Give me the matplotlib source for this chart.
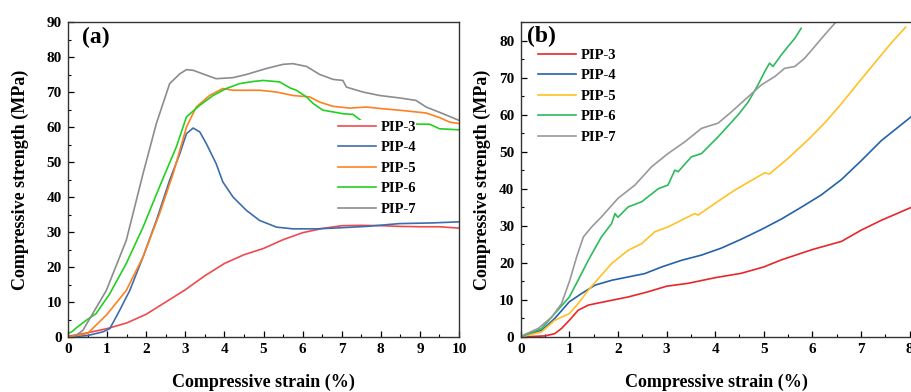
import numpy as np
import matplotlib
matplotlib.use("Agg")
import matplotlib.pyplot as plt
from matplotlib.ticker import MultipleLocator

# ---------------- data, panel (a) ----------------
labels = ["PIP-3", "PIP-4", "PIP-5", "PIP-6", "PIP-7"]

a3_x = [0, 0.5, 1.0, 1.5, 2.0, 2.5, 3.0, 3.5, 4.0, 4.5, 5.0, 5.5, 6.0, 6.5, 7.0, 7.5, 8.0, 8.5, 9.0, 9.5, 10.0]
a3_y = [0.2, 1.2, 2.4, 4.0, 6.5, 10.0, 13.5, 17.5, 21.0, 23.5, 25.3, 27.8, 29.8, 31.0, 31.8, 31.9, 31.8, 31.6, 31.5, 31.5, 31.1]

a4_x = [0, 0.5, 0.9, 1.07, 1.32, 1.58, 1.92, 2.26, 2.6, 2.86, 3.03, 3.2, 3.37, 3.54, 3.79, 3.96,
        4.22, 4.56, 4.9, 5.33, 5.75, 6.35, 6.78, 7.63, 8.48, 9.33, 10.0]
a4_y = [0, 0.4, 1.5, 2.4, 7.6, 13.3, 22.9, 33.3, 44.8, 52.4, 58.1, 59.7, 58.6, 55.2, 49.5, 44.3,
        40.0, 36.2, 33.3, 31.4, 30.9, 30.9, 31.1, 31.6, 32.4, 32.6, 32.9]

a5_x = [0, 0.5, 1.0, 1.49, 1.92, 2.34, 2.69, 3.03, 3.28, 3.62, 3.96, 4.22, 4.9, 5.33, 5.75, 6.18,
        6.44, 6.78, 7.2, 7.63, 8.06, 8.48, 8.9, 9.16, 9.5, 9.76, 10.0]
a5_y = [0, 1.0, 6.5, 13.3, 22.9, 35.2, 46.7, 60.0, 65.7, 69.0, 71.0, 70.5, 70.5, 70.0, 69.0, 68.6,
        67.1, 65.9, 65.4, 65.7, 65.2, 64.8, 64.3, 64.0, 62.7, 61.4, 61.0]

# PIP-6 runs behind the legend between ~7.3 and ~9 %
a6_x = [0, 0.1, 0.21, 0.47, 0.72, 1.07, 1.49, 1.92, 2.34, 2.77, 3.03, 3.37, 3.71, 4.05, 4.39, 4.73,
        4.99, 5.41, 5.67, 5.84, 6.1, 6.27, 6.52, 6.78, 7.03, 7.29, 7.5, 8.0, 8.5, 9.0, 9.25, 9.5, 10.0]
a6_y = [1.0, 1.5, 2.6, 4.8, 6.7, 12.4, 21.0, 31.4, 42.9, 54.3, 62.9, 66.2, 69.0, 71.0, 72.4, 73.0,
        73.3, 72.9, 71.2, 70.5, 68.6, 66.7, 64.8, 64.3, 63.8, 63.6, 61.8, 61.4, 61.1, 60.8, 60.8, 59.5, 59.2]

a7_x = [0.15, 0.38, 0.98, 1.49, 1.92, 2.26, 2.6, 2.86, 3.03, 3.2, 3.54, 3.79, 4.22, 4.56, 5.07, 5.5,
        5.75, 6.1, 6.44, 6.78, 7.03, 7.12, 7.54, 7.97, 8.48, 8.9, 9.16, 9.59, 10.0]
a7_y = [0, 1.9, 13.3, 27.6, 46.7, 61.0, 72.4, 75.2, 76.4, 76.2, 74.8, 73.8, 74.1, 75.0, 76.7, 77.9,
        78.1, 77.3, 75.0, 73.6, 73.3, 71.4, 70.0, 69.0, 68.3, 67.6, 65.7, 63.8, 61.9]

# ---------------- data, panel (b) ----------------
b3_x = [0, 0.5, 0.7, 0.84, 1.0, 1.18, 1.39, 1.53, 1.87, 2.21, 2.62, 3.0, 3.45, 4.0, 4.54, 5.0,
        5.36, 6.0, 6.6, 7.0, 7.42, 8.04]
b3_y = [0, 0.3, 0.9, 2.3, 4.5, 7.2, 8.6, 9.0, 9.9, 10.8, 12.2, 13.7, 14.5, 16.0, 17.2, 18.9,
        20.8, 23.6, 25.8, 28.8, 31.5, 35.0]

b4_x = [0, 0.43, 0.7, 1.0, 1.25, 1.53, 1.87, 2.21, 2.55, 2.9, 3.31, 3.72, 4.13, 4.54, 4.95, 5.36,
        5.77, 6.18, 6.6, 7.0, 7.42, 8.04]
b4_y = [0, 1.8, 5.0, 9.5, 11.7, 14.0, 15.3, 16.2, 17.1, 18.9, 20.7, 22.1, 24.0, 26.4, 29.0, 31.8,
        35.0, 38.3, 42.5, 47.5, 53.0, 59.5]

b5_x = [0, 0.43, 0.7, 1.0, 1.18, 1.39, 1.66, 1.87, 2.21, 2.49, 2.76, 3.03, 3.38, 3.58, 3.65, 3.99,
        4.4, 4.82, 5.02, 5.12, 5.5, 5.91, 6.25, 6.6, 6.94, 7.28, 7.62, 7.92]
b5_y = [0, 1.4, 4.5, 6.3, 9.0, 12.6, 16.7, 19.8, 23.4, 25.2, 28.4, 29.7, 32.0, 33.3, 32.9, 36.0,
        39.6, 42.8, 44.3, 44.0, 48.2, 53.2, 57.7, 63.0, 68.5, 73.9, 79.3, 83.6]

b6_x = [0, 0.43, 0.7, 1.0, 1.18, 1.39, 1.66, 1.87, 1.94, 2.0, 2.21, 2.49, 2.83, 3.03, 3.17, 3.24,
        3.51, 3.72, 4.06, 4.47, 4.68, 4.88, 5.02, 5.12, 5.19, 5.36, 5.5, 5.64, 5.77]
b6_y = [0, 2.3, 6.3, 10.8, 15.3, 20.7, 27.0, 30.6, 33.3, 32.3, 35.1, 36.5, 40.0, 41.0, 45.0, 44.6,
        48.6, 49.5, 54.0, 59.9, 63.4, 68.0, 71.6, 73.9, 73.0, 76.1, 78.4, 80.6, 83.3]

b7_x = [0, 0.36, 0.64, 0.84, 1.01, 1.15, 1.29, 1.46, 1.66, 2.0, 2.35, 2.69, 3.03, 3.38, 3.72, 4.06,
        4.34, 4.61, 4.95, 5.23, 5.43, 5.64, 5.84, 6.05, 6.25, 6.52]
b7_y = [0.2, 2.3, 5.4, 9.0, 15.3, 21.6, 27.0, 29.7, 32.4, 37.4, 41.0, 45.9, 49.5, 52.7, 56.3, 57.7,
        60.8, 64.0, 68.0, 70.3, 72.5, 73.0, 75.2, 78.4, 81.5, 85.5]

colors_a = ["#EE4A4E", "#3D6DAE", "#FF8020", "#22D022", "#8C8C8C"]
colors_b = ["#E8262C", "#2462A8", "#FFC125", "#2EBA5E", "#999999"]

series_a = [(a3_x, a3_y), (a4_x, a4_y), (a5_x, a5_y), (a6_x, a6_y), (a7_x, a7_y)]
series_b = [(b3_x, b3_y), (b4_x, b4_y), (b5_x, b5_y), (b6_x, b6_y), (b7_x, b7_y)]

plt.rcParams.update({
    "font.family": "Liberation Serif",
    "font.weight": "bold",
    "axes.labelweight": "bold",
    "axes.linewidth": 1.0,
    "axes.edgecolor": "#333333",
    "xtick.direction": "in",
    "ytick.direction": "in",
})

fig = plt.figure(figsize=(9.11, 3.92), dpi=100)
W, H = 911, 392


def px_axes(left, right, top, bottom):
    return fig.add_axes([left / W, 1 - bottom / H, (right - left) / W, (bottom - top) / H])


ax_a = px_axes(68, 459, 22, 337)
ax_b = px_axes(520.7, 911.5, 22, 337)

for ax, series, cols in [(ax_a, series_a, colors_a), (ax_b, series_b, colors_b)]:
    for (x, y), c, lab in zip(series, cols, labels):
        ax.plot(x, y, color=c, lw=1.2, label=lab)
    ax.tick_params(which="major", length=4, width=0.9, labelsize=11, pad=4.5,
                   top=False, right=False)
    ax.tick_params(which="minor", length=2.5, width=0.8, top=False, right=False)
    ax.xaxis.set_major_locator(MultipleLocator(1))
    ax.xaxis.set_minor_locator(MultipleLocator(0.5))
    ax.yaxis.set_major_locator(MultipleLocator(10))
    ax.yaxis.set_minor_locator(MultipleLocator(5))
    ax.set_xlabel("Compressive strain (%)", fontsize=13, va="center")
    ax.set_ylabel("Compressive strength (MPa)", fontsize=13, va="center")
    ax.xaxis.set_label_coords(0.5, -0.143)

ax_a.set_xlim(0, 10)
ax_a.set_ylim(0, 90)
ax_a.yaxis.set_label_coords(-0.123, 0.5)
ax_a.text(0.035, 0.95, "(a)", transform=ax_a.transAxes, fontsize=17, ha="left", va="center")

ax_b.set_xlim(0, 8.04)
ax_b.set_ylim(0, 85)
ax_b.yaxis.set_label_coords(-0.097, 0.5)
ax_b.text(0.015, 0.953, "(b)", transform=ax_b.transAxes, fontsize=17, ha="left", va="center")

leg_kw = dict(fontsize=10.5, frameon=True, framealpha=1, facecolor="white", edgecolor="none",
              fancybox=False, borderpad=0.0, handlelength=2.6, handletextpad=0.35,
              labelspacing=0.5, borderaxespad=0, loc="upper left")
ax_a.legend(bbox_to_anchor=(0.69, 0.6875), **leg_kw)
ax_b.legend(bbox_to_anchor=(0.044, 0.9155), **leg_kw)

fig.savefig("out.png", dpi=100)
